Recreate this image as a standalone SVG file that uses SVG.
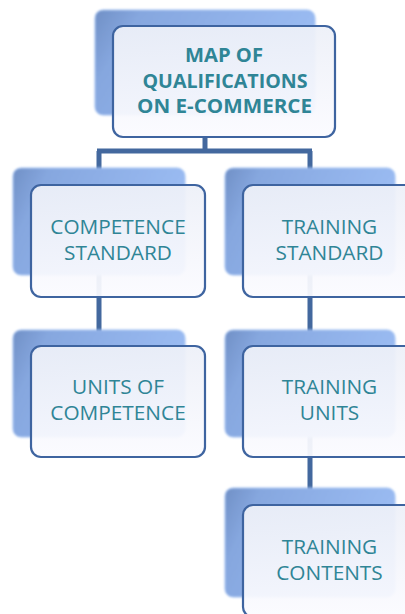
<svg xmlns="http://www.w3.org/2000/svg" width="405" height="614" viewBox="0 0 405 614">
<style>
.back{fill:url(#gBack);stroke:#a3c2f2;stroke-width:1;filter:url(#soft)}
.front{fill:url(#gFront);fill-opacity:0.94;stroke:#3e64a0;stroke-width:2.2}
.t{font-family:"Open Sans","Liberation Sans",sans-serif;font-size:20.8px;fill:#2f8596;text-anchor:middle}
.tb{font-family:"Open Sans","Liberation Sans",sans-serif;font-size:19.5px;font-weight:bold;fill:#2f8596;text-anchor:middle}
.conn{fill:none;stroke:#43689e;stroke-width:5}
</style>
<defs>
<linearGradient id="gBack" x1="0" y1="0" x2="1" y2="0.3">
<stop offset="0" stop-color="#7090c6"/>
<stop offset="0.2" stop-color="#86a7df"/>
<stop offset="1" stop-color="#9bbcf3"/>
</linearGradient>
<linearGradient id="gFront" x1="0" y1="0" x2="0" y2="1">
<stop offset="0" stop-color="#edf0f8"/>
<stop offset="1" stop-color="#fbfbff"/>
</linearGradient>
<filter id="soft" x="-10%" y="-10%" width="120%" height="120%">
<feGaussianBlur stdDeviation="1.2"/>
</filter>
</defs>
<rect width="405" height="614" fill="#ffffff"/>
<g id="connectors">
<path class="conn" d="M205,137 V151"/>
<path class="conn" d="M97,151 H312"/>
<path class="conn" d="M99,151 V346"/>
<path class="conn" d="M310,151 V505"/>
</g>
<g id="node-map">
<rect class="back" x="95" y="10" width="220" height="105" rx="8"/>
<rect class="front" x="113" y="26" width="222" height="111" rx="10"/>
<text class="tb" x="224" y="62" textLength="78" lengthAdjust="spacingAndGlyphs">MAP OF</text>
<text class="tb" x="225" y="88" textLength="165" lengthAdjust="spacingAndGlyphs">QUALIFICATIONS</text>
<text class="tb" x="224.5" y="113" textLength="175" lengthAdjust="spacingAndGlyphs">ON E-COMMERCE</text>
</g>
<g id="node-competence-standard">
<rect class="back" x="13" y="168" width="172" height="107" rx="8"/>
<rect class="front" x="31" y="185" width="174" height="112" rx="10"/>
<text class="t" x="118" y="234">COMPETENCE</text>
<text class="t" x="118" y="260">STANDARD</text>
</g>
<g id="node-training-standard">
<rect class="back" x="225" y="168" width="170" height="107" rx="8"/>
<rect class="front" x="243" y="185" width="174" height="112" rx="10"/>
<text class="t" x="329.5" y="234">TRAINING</text>
<text class="t" x="329.5" y="260">STANDARD</text>
</g>
<g id="node-units-of-competence">
<rect class="back" x="13" y="330" width="172" height="107" rx="8"/>
<rect class="front" x="31" y="346" width="174" height="111" rx="10"/>
<text class="t" x="118" y="394">UNITS OF</text>
<text class="t" x="118" y="420">COMPETENCE</text>
</g>
<g id="node-training-units">
<rect class="back" x="225" y="330" width="170" height="107" rx="8"/>
<rect class="front" x="243" y="346" width="174" height="111" rx="10"/>
<text class="t" x="329.5" y="394">TRAINING</text>
<text class="t" x="329.5" y="420">UNITS</text>
</g>
<g id="node-training-contents">
<rect class="back" x="225" y="488" width="170" height="109" rx="8"/>
<rect class="front" x="243" y="505" width="174" height="112" rx="10"/>
<text class="t" x="329.5" y="554">TRAINING</text>
<text class="t" x="329.5" y="580">CONTENTS</text>
</g>
</svg>
